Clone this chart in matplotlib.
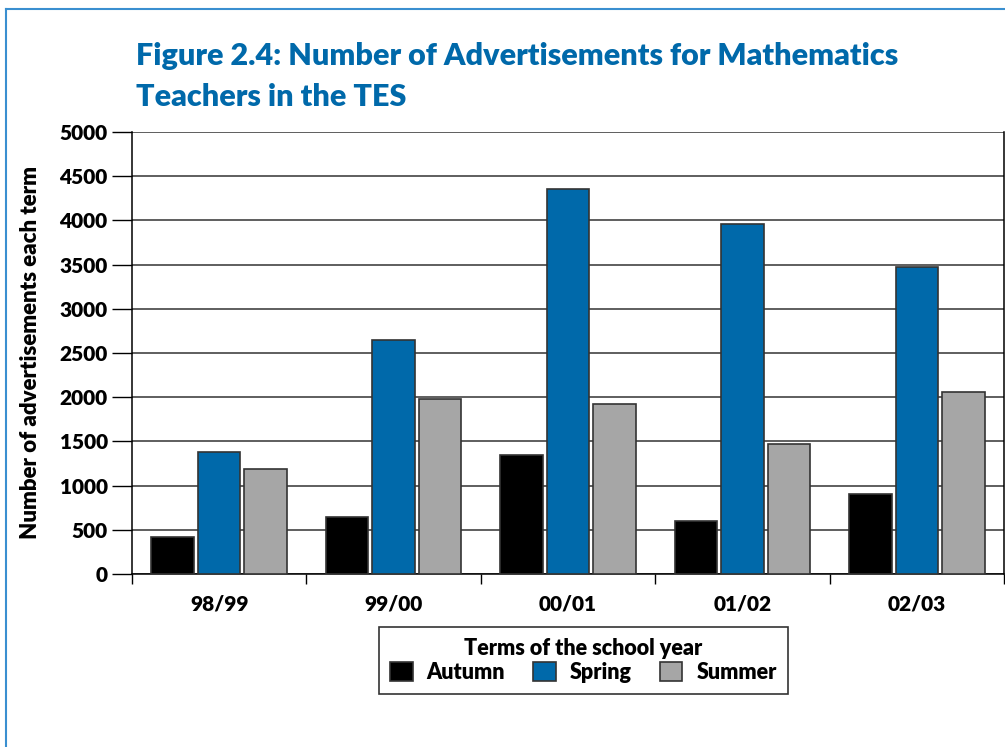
import numpy as np
import matplotlib
matplotlib.use("Agg")
import matplotlib.pyplot as plt

# data
years = ["98/99", "99/00", "00/01", "01/02", "02/03"]
autumn = [420, 640, 1345, 595, 910]
spring = [1375, 2645, 4360, 3955, 3475]
summer = [1185, 1980, 1925, 1475, 2055]
terms = ["Autumn", "Spring", "Summer"]
colours = ["#000000", "#0069aa", "#a6a6a6"]

plt.rcParams["font.family"] = ["Lato", "DejaVu Sans"]
plt.rcParams["font.weight"] = "heavy"

fig = plt.figure(figsize=(10.05, 7.47), dpi=100)
ax = fig.add_axes([0.1313, 0.2316, 0.8677, 0.5917])

x = np.arange(len(years))
w = 0.244
off = 0.267
for i, (vals, name, col) in enumerate(zip([autumn, spring, summer], terms, colours)):
    ax.bar(x + (i - 1) * off, vals, width=w, color=col, edgecolor="#333333",
           linewidth=1.2, label=name, zorder=3)

ax.set_xlim(-0.5, len(years) - 0.5)
ax.set_ylim(0, 5000)
ax.set_yticks(np.arange(0, 5001, 500))
ax.grid(axis="y", color="#333333", linewidth=1.1, zorder=0)
ax.set_axisbelow(True)

ax.set_xticks(x)
ax.set_xticklabels(years, fontsize=15, fontweight="heavy")
ax.set_xticks(np.arange(-0.5, len(years)), minor=True)
ax.tick_params(axis="x", which="major", length=0, pad=15)
ax.tick_params(axis="x", which="minor", length=7.5, width=1, direction="out")
ax.tick_params(axis="y", length=14.5, width=1, direction="out", labelsize=15, pad=3)
for lab in ax.get_yticklabels():
    lab.set_fontweight("heavy")

for s in ["left", "right", "bottom"]:
    ax.spines[s].set_linewidth(1.1)
ax.spines["top"].set_visible(False)

ax.set_ylabel("Number of advertisements each term", fontsize=16,
              fontweight="heavy")
ax.yaxis.set_label_coords(-0.104, 0.5)

fig.text(0.1353, 0.913, "Figure 2.4: Number of Advertisements for Mathematics",
         fontsize=22, fontweight="heavy", color="#0069aa")
fig.text(0.1353, 0.858, "Teachers in the TES",
         fontsize=22, fontweight="heavy", color="#0069aa")

leg = ax.legend(loc="upper center", bbox_to_anchor=(0.5806, 0.1606),
                bbox_transform=fig.transFigure, ncol=3, fancybox=False,
                edgecolor="#333333", framealpha=1, borderaxespad=0,
                title="Terms of the school year",
                prop={"size": 15.5, "weight": "heavy"},
                title_fontproperties={"size": 15.5, "weight": "heavy"},
                handlelength=1.05, handleheight=1.0, columnspacing=1.3,
                handletextpad=0.65, borderpad=0.5, labelspacing=0.15)
leg.get_frame().set_linewidth(1.2)

# thin blue frame round the figure
fig.add_artist(plt.Line2D([0.006, 1.0], [0.988, 0.988], color="#3a8fd0", lw=1.5,
                          transform=fig.transFigure))
fig.add_artist(plt.Line2D([0.006, 0.006], [0.0, 0.988], color="#3a8fd0", lw=1.5,
                          transform=fig.transFigure))

fig.savefig("out.png", dpi=100)
